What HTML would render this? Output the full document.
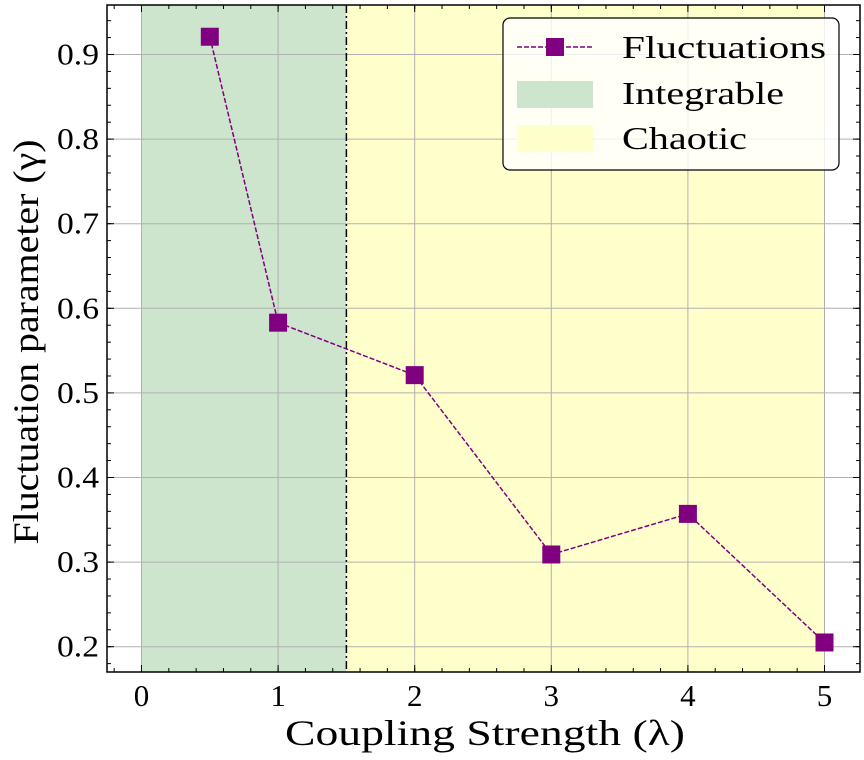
<!DOCTYPE html>
<html><head><meta charset="utf-8"><style>
body{margin:0;background:#fff}
svg text{font-family:"Liberation Serif",serif;fill:#000}
</style></head><body>
<svg id="c" width="864" height="755"></svg>
<script>
const xVals=[0.5,1,2,3,4,5];
const yVals=[0.921,0.583,0.521,0.309,0.357,0.205];
const xTicks=[0,1,2,3,4,5];
const yTicks=[0.2,0.3,0.4,0.5,0.6,0.7,0.8,0.9];
const NS='http://www.w3.org/2000/svg';
const svg=document.getElementById('c');
const L=107,R=860,T=5,B=672;
const X=v=>141.5+v*136.6;
const Y=v=>646.7-(v-0.2)*846;
function el(t,a,p){const e=document.createElementNS(NS,t);for(const k in a)e.setAttribute(k,a[k]);(p||svg).appendChild(e);return e;}
let e;
e=el('rect',{x:X(0),y:T,width:X(1.5)-X(0),height:B-T,fill:'#cce5cc'});


e=el('rect',{x:X(1.5),y:T,width:X(5)-X(1.5),height:B-T,fill:'#ffffcc'});


xTicks.forEach(v=>{
  el('line',{x1:X(v),x2:X(v),y1:T,y2:B,stroke:'#b0b0b0','stroke-width':1});
  el('line',{x1:X(v),x2:X(v),y1:B,y2:B-7,stroke:'#000'});
  el('line',{x1:X(v),x2:X(v),y1:T,y2:T+7,stroke:'#000'});
  e=el('text',{x:X(v),y:706,'text-anchor':'middle','font-size':31});e.textContent=v;
  
  
});
for(let v=-0.2;v<=5.2;v+=0.2){const px=X(v);if(px<L||px>R)continue;
  el('line',{x1:px,x2:px,y1:B,y2:B-4,stroke:'#000'});el('line',{x1:px,x2:px,y1:T,y2:T+4,stroke:'#000'});}
yTicks.forEach(v=>{
  el('line',{x1:L,x2:R,y1:Y(v),y2:Y(v),stroke:'#b0b0b0','stroke-width':1});
  el('line',{x1:L,x2:L+7,y1:Y(v),y2:Y(v),stroke:'#000'});
  el('line',{x1:R,x2:R-7,y1:Y(v),y2:Y(v),stroke:'#000'});
  e=el('text',{x:99,y:Y(v)+10,'text-anchor':'end','font-size':31,textLength:42,lengthAdjust:'spacingAndGlyphs'});e.textContent=v.toFixed(1);
  
  
});
for(let v=0.16;v<=0.97;v+=0.02){const py=Y(v);if(py<T||py>B)continue;
  el('line',{x1:L,x2:L+4,y1:py,y2:py,stroke:'#000'});el('line',{x1:R,x2:R-4,y1:py,y2:py,stroke:'#000'});}
e=el('line',{x1:X(1.5),x2:X(1.5),y1:T,y2:B,stroke:'#000','stroke-width':1.5,'stroke-dasharray':'8,3,2,3'});


e=el('polyline',{points:xVals.map((x,i)=>X(x)+','+Y(yVals[i])).join(' '),fill:'none',stroke:'#800080','stroke-width':1.5,'stroke-dasharray':'5,2'});


xVals.forEach((x,i)=>{
  e=el('rect',{x:X(x)-9,y:Y(yVals[i])-9,width:18,height:18,fill:'#800080'});
  
  
});
el('rect',{x:L,y:T,width:R-L,height:B-T,fill:'none',stroke:'#000','stroke-width':1.5});
const lg=el('g',{});


el('rect',{x:503,y:18,width:336,height:152,rx:7,fill:'#fff',stroke:'#000','stroke-width':1.2,'fill-opacity':0.8},lg);
el('line',{x1:517,x2:593,y1:47,y2:47,stroke:'#800080','stroke-width':1.5,'stroke-dasharray':'5,2'},lg);
el('rect',{x:546,y:38,width:18,height:18,fill:'#800080'},lg);
el('rect',{x:517,y:81,width:76,height:27,fill:'#cce5cc'},lg);
el('rect',{x:517,y:125,width:76,height:27,fill:'#ffffcc'},lg);
[['Fluctuations',58,204],['Integrable',104,162],['Chaotic',149,125]].forEach(([t,y,w])=>{
  e=el('text',{x:622,y:y,'font-size':32,textLength:w,lengthAdjust:'spacingAndGlyphs'},lg);e.textContent=t;
  
  
});
e=el('text',{x:485,y:745,'text-anchor':'middle','font-size':36,textLength:400,lengthAdjust:'spacingAndGlyphs'});e.textContent='Coupling Strength (λ)';


e=el('text',{x:0,y:0,'text-anchor':'middle','font-size':36,textLength:405,lengthAdjust:'spacingAndGlyphs',transform:'translate(38,342) rotate(-90)'});e.textContent='Fluctuation parameter (γ)';


</script>
</body></html>
